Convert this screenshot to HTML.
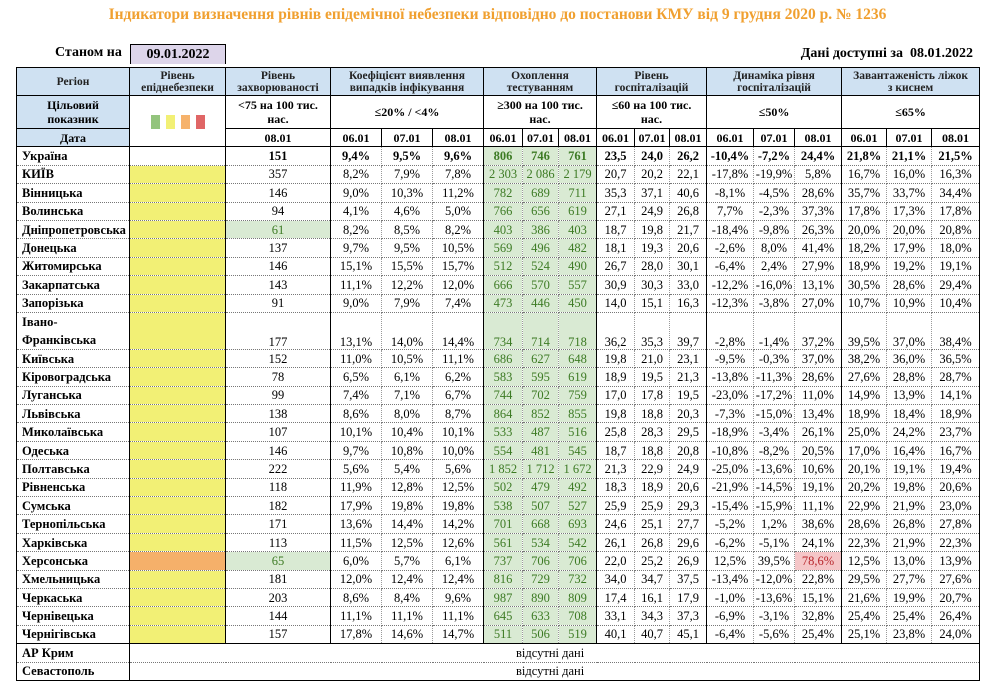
<!DOCTYPE html>
<html><head><meta charset="utf-8"><style>
body{margin:0;width:995px;height:697px;background:#fff;position:relative;font-family:"Liberation Serif",serif;overflow:hidden}
.title{position:absolute;top:6px;left:0;width:995px;text-align:center;color:#f0a030;font-weight:bold;font-size:15.5px}
.st{position:absolute;top:45px;left:55px;font-weight:bold;font-size:14px}
.dt{position:absolute;top:44px;left:130px;width:94px;height:19px;background:#ddd5ea;border:1px solid #000;border-bottom:none;text-align:center;font-weight:bold;font-size:14px;line-height:19px}
.av{position:absolute;top:46px;right:22px;font-weight:bold;font-size:14px}
table{position:absolute;left:16px;top:67px;border-collapse:collapse;table-layout:fixed;width:963px;border:1.5px solid #000;font-size:12.5px}
td{padding:0;text-align:center;border-bottom:1px dotted #777;border-right:1px dotted #999;height:17.4px;line-height:14px;white-space:nowrap;overflow:hidden}
col.s{border-left:1.5px solid #000}
.h td{background:#cfe1f2;font-weight:bold;font-size:11.5px;line-height:12px;border:1px solid #000;color:#222}
.h2 td,.h3 td{font-weight:bold;border:1px solid #000;font-size:12px}
.b{background:#cfe1f2}
td.r{text-align:left;padding-left:5px;font-weight:bold;font-size:12.5px}
.y{background:#f2f075}.o{background:#f5b06a}
.g{background:#d9ead3;color:#3d7b24}
.p{background:#f5c6c8;color:#b8262c}
.u td{font-weight:bold}
.sq{display:inline-block;width:9px;height:14px;margin:0 3px;vertical-align:middle}
</style></head><body>
<div class="title">Індикатори визначення рівнів епідемічної небезпеки відповідно до постанови КМУ від 9 грудня 2020 р. № 1236</div>
<div class="st">Станом на</div><div class="dt">09.01.2022</div>
<div class="av">Дані доступні за&nbsp; 08.01.2022</div>
<table>
<colgroup><col style="width:113px"><col class="s" style="width:96px"><col class="s" style="width:105px"><col class="s" style="width:51px"><col style="width:51px"><col style="width:51px"><col class="s" style="width:39px"><col style="width:36px"><col style="width:38px"><col class="s" style="width:38px"><col style="width:35px"><col style="width:37px"><col class="s" style="width:47px"><col style="width:41px"><col style="width:47px"><col class="s" style="width:45px"><col style="width:45px"><col style="width:48px"></colgroup>
<tr class="h" style="height:28px"><td>Регіон</td><td>Рівень<br>епіднебезпеки</td><td>Рівень<br>захворюваності</td><td colspan="3">Коефіцієнт виявлення<br>випадків інфікування</td><td colspan="3">Охоплення<br>тестуванням</td><td colspan="3">Рівень<br>госпіталізацій</td><td colspan="3">Динаміка рівня<br>госпіталізацій</td><td colspan="3">Завантаженість ліжок<br>з киснем</td></tr>
<tr class="h2" style="height:33px"><td class="b">Цільовий<br>показник</td><td rowspan="2"><span class="sq" style="background:#93c47d"></span><span class="sq" style="background:#f2f075"></span><span class="sq" style="background:#f6b26b"></span><span class="sq" style="background:#e06666"></span></td><td>&lt;75 на 100 тис.<br>нас.</td><td colspan="3">≤20% / &lt;4%</td><td colspan="3">≥300 на 100 тис.<br>нас.</td><td colspan="3">≤60 на 100 тис.<br>нас.</td><td colspan="3">≤50%</td><td colspan="3">≤65%</td></tr>
<tr class="h3" style="height:17px"><td class="b">Дата</td><td>08.01</td><td>06.01</td><td>07.01</td><td>08.01</td><td>06.01</td><td>07.01</td><td>08.01</td><td>06.01</td><td>07.01</td><td>08.01</td><td>06.01</td><td>07.01</td><td>08.01</td><td>06.01</td><td>07.01</td><td>08.01</td></tr>
<tr class="u"><td class="r">Україна</td><td></td><td>151</td><td>9,4%</td><td>9,5%</td><td>9,6%</td><td class="g">806</td><td class="g">746</td><td class="g">761</td><td>23,5</td><td>24,0</td><td>26,2</td><td>-10,4%</td><td>-7,2%</td><td>24,4%</td><td>21,8%</td><td>21,1%</td><td>21,5%</td></tr>
<tr><td class="r">КИЇВ</td><td class="y"></td><td>357</td><td>8,2%</td><td>7,9%</td><td>7,8%</td><td class="g">2 303</td><td class="g">2 086</td><td class="g">2 179</td><td>20,7</td><td>20,2</td><td>22,1</td><td>-17,8%</td><td>-19,9%</td><td>5,8%</td><td>16,7%</td><td>16,0%</td><td>16,3%</td></tr>
<tr><td class="r">Вінницька</td><td class="y"></td><td>146</td><td>9,0%</td><td>10,3%</td><td>11,2%</td><td class="g">782</td><td class="g">689</td><td class="g">711</td><td>35,3</td><td>37,1</td><td>40,6</td><td>-8,1%</td><td>-4,5%</td><td>28,6%</td><td>35,7%</td><td>33,7%</td><td>34,4%</td></tr>
<tr><td class="r">Волинська</td><td class="y"></td><td>94</td><td>4,1%</td><td>4,6%</td><td>5,0%</td><td class="g">766</td><td class="g">656</td><td class="g">619</td><td>27,1</td><td>24,9</td><td>26,8</td><td>7,7%</td><td>-2,3%</td><td>37,3%</td><td>17,8%</td><td>17,3%</td><td>17,8%</td></tr>
<tr><td class="r">Дніпропетровська</td><td class="y"></td><td class="g">61</td><td>8,2%</td><td>8,5%</td><td>8,2%</td><td class="g">403</td><td class="g">386</td><td class="g">403</td><td>18,7</td><td>19,8</td><td>21,7</td><td>-18,4%</td><td>-9,8%</td><td>26,3%</td><td>20,0%</td><td>20,0%</td><td>20,8%</td></tr>
<tr><td class="r">Донецька</td><td class="y"></td><td>137</td><td>9,7%</td><td>9,5%</td><td>10,5%</td><td class="g">569</td><td class="g">496</td><td class="g">482</td><td>18,1</td><td>19,3</td><td>20,6</td><td>-2,6%</td><td>8,0%</td><td>41,4%</td><td>18,2%</td><td>17,9%</td><td>18,0%</td></tr>
<tr><td class="r">Житомирська</td><td class="y"></td><td>146</td><td>15,1%</td><td>15,5%</td><td>15,7%</td><td class="g">512</td><td class="g">524</td><td class="g">490</td><td>26,7</td><td>28,0</td><td>30,1</td><td>-6,4%</td><td>2,4%</td><td>27,9%</td><td>18,9%</td><td>19,2%</td><td>19,1%</td></tr>
<tr><td class="r">Закарпатська</td><td class="y"></td><td>143</td><td>11,1%</td><td>12,2%</td><td>12,0%</td><td class="g">666</td><td class="g">570</td><td class="g">557</td><td>30,9</td><td>30,3</td><td>33,0</td><td>-12,2%</td><td>-16,0%</td><td>13,1%</td><td>30,5%</td><td>28,6%</td><td>29,4%</td></tr>
<tr><td class="r">Запорізька</td><td class="y"></td><td>91</td><td>9,0%</td><td>7,9%</td><td>7,4%</td><td class="g">473</td><td class="g">446</td><td class="g">450</td><td>14,0</td><td>15,1</td><td>16,3</td><td>-12,3%</td><td>-3,8%</td><td>27,0%</td><td>10,7%</td><td>10,9%</td><td>10,4%</td></tr>
<tr style="height:37px"><td class="r" style="line-height:18px">Івано-<br>Франківська</td><td class="y"></td><td style="vertical-align:bottom">177</td><td style="vertical-align:bottom">13,1%</td><td style="vertical-align:bottom">14,0%</td><td style="vertical-align:bottom">14,4%</td><td class="g" style="vertical-align:bottom">734</td><td class="g" style="vertical-align:bottom">714</td><td class="g" style="vertical-align:bottom">718</td><td style="vertical-align:bottom">36,2</td><td style="vertical-align:bottom">35,3</td><td style="vertical-align:bottom">39,7</td><td style="vertical-align:bottom">-2,8%</td><td style="vertical-align:bottom">-1,4%</td><td style="vertical-align:bottom">37,2%</td><td style="vertical-align:bottom">39,5%</td><td style="vertical-align:bottom">37,0%</td><td style="vertical-align:bottom">38,4%</td></tr>
<tr><td class="r">Київська</td><td class="y"></td><td>152</td><td>11,0%</td><td>10,5%</td><td>11,1%</td><td class="g">686</td><td class="g">627</td><td class="g">648</td><td>19,8</td><td>21,0</td><td>23,1</td><td>-9,5%</td><td>-0,3%</td><td>37,0%</td><td>38,2%</td><td>36,0%</td><td>36,5%</td></tr>
<tr><td class="r">Кіровоградська</td><td class="y"></td><td>78</td><td>6,5%</td><td>6,1%</td><td>6,2%</td><td class="g">583</td><td class="g">595</td><td class="g">619</td><td>18,9</td><td>19,5</td><td>21,3</td><td>-13,8%</td><td>-11,3%</td><td>28,6%</td><td>27,6%</td><td>28,8%</td><td>28,7%</td></tr>
<tr><td class="r">Луганська</td><td class="y"></td><td>99</td><td>7,4%</td><td>7,1%</td><td>6,7%</td><td class="g">744</td><td class="g">702</td><td class="g">759</td><td>17,0</td><td>17,8</td><td>19,5</td><td>-23,0%</td><td>-17,2%</td><td>11,0%</td><td>14,9%</td><td>13,9%</td><td>14,1%</td></tr>
<tr><td class="r">Львівська</td><td class="y"></td><td>138</td><td>8,6%</td><td>8,0%</td><td>8,7%</td><td class="g">864</td><td class="g">852</td><td class="g">855</td><td>19,8</td><td>18,8</td><td>20,3</td><td>-7,3%</td><td>-15,0%</td><td>13,4%</td><td>18,9%</td><td>18,4%</td><td>18,9%</td></tr>
<tr><td class="r">Миколаївська</td><td class="y"></td><td>107</td><td>10,1%</td><td>10,4%</td><td>10,1%</td><td class="g">533</td><td class="g">487</td><td class="g">516</td><td>25,8</td><td>28,3</td><td>29,5</td><td>-18,9%</td><td>-3,4%</td><td>26,1%</td><td>25,0%</td><td>24,2%</td><td>23,7%</td></tr>
<tr><td class="r">Одеська</td><td class="y"></td><td>146</td><td>9,7%</td><td>10,8%</td><td>10,0%</td><td class="g">554</td><td class="g">481</td><td class="g">545</td><td>18,7</td><td>18,8</td><td>20,8</td><td>-10,8%</td><td>-8,2%</td><td>20,5%</td><td>17,0%</td><td>16,4%</td><td>16,7%</td></tr>
<tr><td class="r">Полтавська</td><td class="y"></td><td>222</td><td>5,6%</td><td>5,4%</td><td>5,6%</td><td class="g">1 852</td><td class="g">1 712</td><td class="g">1 672</td><td>21,3</td><td>22,9</td><td>24,9</td><td>-25,0%</td><td>-13,6%</td><td>10,6%</td><td>20,1%</td><td>19,1%</td><td>19,4%</td></tr>
<tr><td class="r">Рівненська</td><td class="y"></td><td>118</td><td>11,9%</td><td>12,8%</td><td>12,5%</td><td class="g">502</td><td class="g">479</td><td class="g">492</td><td>18,3</td><td>18,9</td><td>20,6</td><td>-21,9%</td><td>-14,5%</td><td>19,1%</td><td>20,2%</td><td>19,8%</td><td>20,6%</td></tr>
<tr><td class="r">Сумська</td><td class="y"></td><td>182</td><td>17,9%</td><td>19,8%</td><td>19,8%</td><td class="g">538</td><td class="g">507</td><td class="g">527</td><td>25,9</td><td>25,9</td><td>29,3</td><td>-15,4%</td><td>-15,9%</td><td>11,1%</td><td>22,9%</td><td>21,9%</td><td>23,0%</td></tr>
<tr><td class="r">Тернопільська</td><td class="y"></td><td>171</td><td>13,6%</td><td>14,4%</td><td>14,2%</td><td class="g">701</td><td class="g">668</td><td class="g">693</td><td>24,6</td><td>25,1</td><td>27,7</td><td>-5,2%</td><td>1,2%</td><td>38,6%</td><td>28,6%</td><td>26,8%</td><td>27,8%</td></tr>
<tr><td class="r">Харківська</td><td class="y"></td><td>113</td><td>11,5%</td><td>12,5%</td><td>12,6%</td><td class="g">561</td><td class="g">534</td><td class="g">542</td><td>26,1</td><td>26,8</td><td>29,6</td><td>-6,2%</td><td>-5,1%</td><td>24,1%</td><td>22,3%</td><td>21,9%</td><td>22,3%</td></tr>
<tr><td class="r">Херсонська</td><td class="o"></td><td class="g">65</td><td>6,0%</td><td>5,7%</td><td>6,1%</td><td class="g">737</td><td class="g">706</td><td class="g">706</td><td>22,0</td><td>25,2</td><td>26,9</td><td>12,5%</td><td>39,5%</td><td class="p">78,6%</td><td>12,5%</td><td>13,0%</td><td>13,9%</td></tr>
<tr><td class="r">Хмельницька</td><td class="y"></td><td>181</td><td>12,0%</td><td>12,4%</td><td>12,4%</td><td class="g">816</td><td class="g">729</td><td class="g">732</td><td>34,0</td><td>34,7</td><td>37,5</td><td>-13,4%</td><td>-12,0%</td><td>22,8%</td><td>29,5%</td><td>27,7%</td><td>27,6%</td></tr>
<tr><td class="r">Черкаська</td><td class="y"></td><td>203</td><td>8,6%</td><td>8,4%</td><td>9,6%</td><td class="g">987</td><td class="g">890</td><td class="g">809</td><td>17,4</td><td>16,1</td><td>17,9</td><td>-1,0%</td><td>-13,6%</td><td>15,1%</td><td>21,6%</td><td>19,9%</td><td>20,7%</td></tr>
<tr><td class="r">Чернівецька</td><td class="y"></td><td>144</td><td>11,1%</td><td>11,1%</td><td>11,1%</td><td class="g">645</td><td class="g">633</td><td class="g">708</td><td>33,1</td><td>34,3</td><td>37,3</td><td>-6,9%</td><td>-3,1%</td><td>32,8%</td><td>25,4%</td><td>25,4%</td><td>26,4%</td></tr>
<tr><td class="r">Чернігівська</td><td class="y"></td><td>157</td><td>17,8%</td><td>14,6%</td><td>14,7%</td><td class="g">511</td><td class="g">506</td><td class="g">519</td><td>40,1</td><td>40,7</td><td>45,1</td><td>-6,4%</td><td>-5,6%</td><td>25,4%</td><td>25,1%</td><td>23,8%</td><td>24,0%</td></tr>
<tr style="border-top:1.5px solid #000"><td class="r">АР Крим</td><td colspan="17" style="text-align:left;padding-left:386px;border-left:1.5px solid #000">відсутні дані</td></tr>
<tr><td class="r">Севастополь</td><td colspan="17" style="text-align:left;padding-left:386px;border-left:1.5px solid #000">відсутні дані</td></tr>
</table>
</body></html>
